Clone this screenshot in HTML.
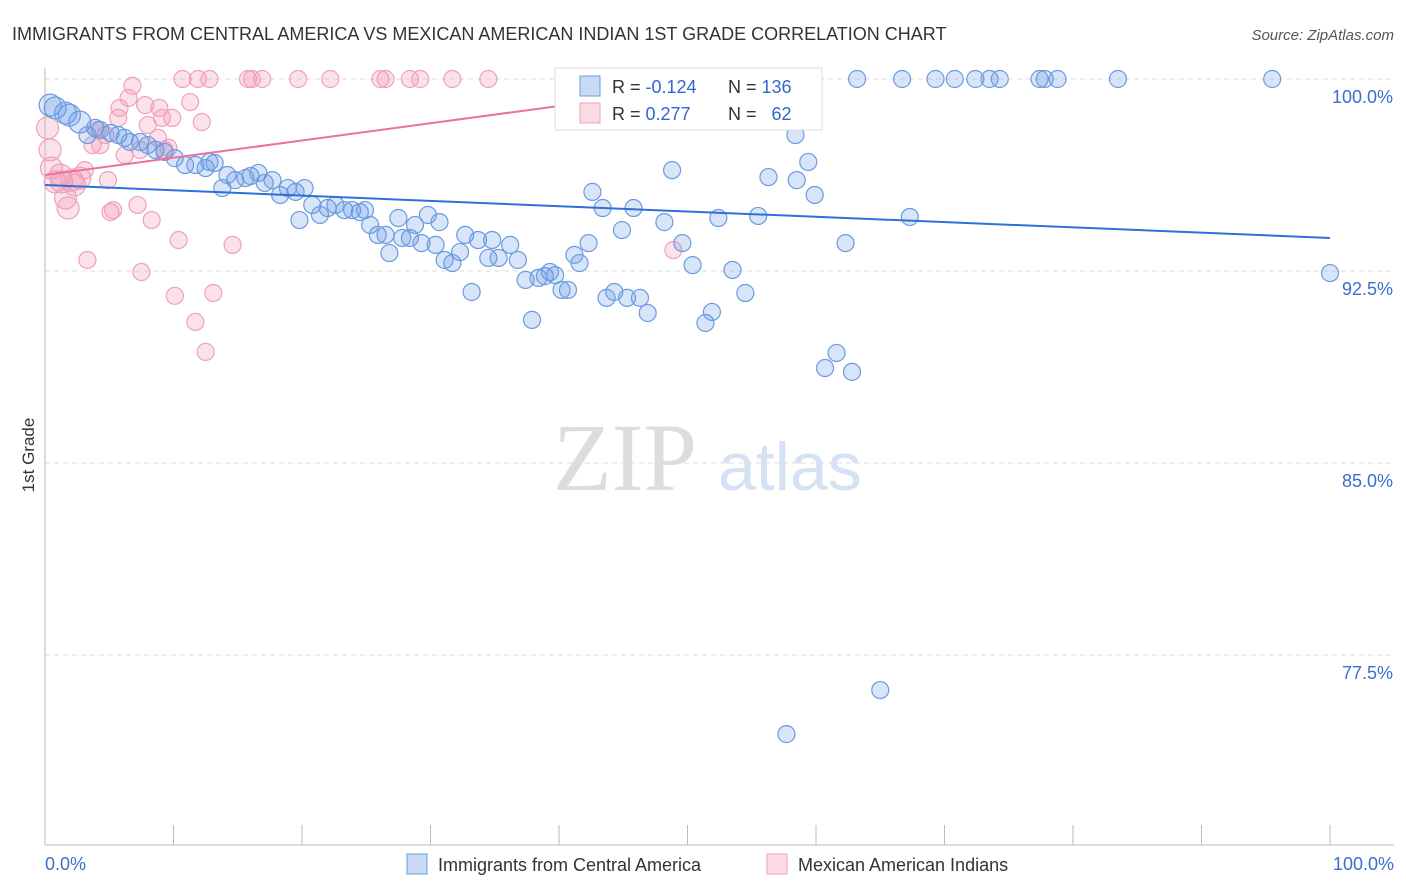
<!DOCTYPE html>
<html><head><meta charset="utf-8"><style>
body{margin:0;background:#fff;font-family:"Liberation Sans",sans-serif;}
svg{display:block}
</style></head><body>
<svg id="chart" width="1406" height="892">
<text x="12" y="40" font-size="18" fill="#333">IMMIGRANTS FROM CENTRAL AMERICA VS MEXICAN AMERICAN INDIAN 1ST GRADE CORRELATION CHART</text>
<text x="1394" y="40" font-size="15" fill="#555" font-style="italic" text-anchor="end">Source: ZipAtlas.com</text>
<text transform="translate(34,455) rotate(-90)" font-size="17" fill="#333" text-anchor="middle">1st Grade</text>
<g>
<text x="553" y="490" font-size="96" fill="#ddd" font-family="Liberation Serif,serif">ZIP</text>
<text x="718" y="490" font-size="68" fill="#d4e2f4">atlas</text>
</g>
<g id="grid"></g><g id="axes"></g><g id="pts"></g><g id="trends"></g>
<g>
<rect x="555" y="68" width="267" height="62" fill="#fff" stroke="#ddd"/>
<rect x="580" y="76" width="20" height="20" fill="rgba(100,150,230,0.35)" stroke="#6a9be0"/>
<rect x="580" y="103" width="20" height="20" fill="rgba(240,150,180,0.35)" stroke="#f0a0bb"/>
<text x="612" y="93" font-size="18" fill="#333">R = <tspan fill="#3366cc">-0.124</tspan></text>
<text x="728" y="93" font-size="18" fill="#333">N = <tspan fill="#3366cc">136</tspan></text>
<text x="612" y="120" font-size="18" fill="#333">R = <tspan fill="#3366cc">0.277</tspan></text>
<text x="728" y="120" font-size="18" fill="#333">N = <tspan fill="#3366cc" dx="10">62</tspan></text>
</g>
<g>
<rect x="407" y="854" width="20" height="20" fill="rgba(100,150,230,0.35)" stroke="#6a9be0"/>
<text x="438" y="871" font-size="18" fill="#333">Immigrants from Central America</text>
<rect x="767" y="854" width="20" height="20" fill="rgba(240,150,180,0.35)" stroke="#f0a0bb"/>
<text x="798" y="871" font-size="18" fill="#333">Mexican American Indians</text>
</g>
</svg>
<script>
const yTicks=[100,92.5,85,77.5];
const yTickLabels=["100.0%","92.5%","85.0%","77.5%"];
const xTickLabels=["0.0%","100.0%"];
const blueX=[0.4,0.8,1.6,1.9,2.7,3.3,3.9,4.3,5.1,5.7,6.2,6.6,7.4,8.0,8.6,9.3,10.1,10.9,11.7,12.5,12.8,13.2,13.8,14.2,14.8,15.6,16.0,16.6,17.1,17.7,18.3,18.9,19.5,19.8,20.2,20.8,21.4,22.0,22.6,23.3,23.9,24.5,24.9,25.3,25.9,26.5,26.8,27.5,27.8,28.4,28.8,29.3,29.8,30.4,30.7,31.1,31.7,32.3,32.7,33.2,33.7,34.5,34.8,35.3,36.2,36.8,37.4,37.9,38.4,38.9,39.3,39.7,40.2,40.7,41.2,41.6,42.3,42.6,43.4,43.7,44.3,44.9,45.3,45.8,46.3,46.9,48.2,48.8,49.6,50.4,50.7,51.4,51.9,52.4,53.5,54.5,55.5,56.3,57.7,58.4,58.5,59.4,59.9,60.7,61.6,62.3,62.8,65.0,67.3,100,47.5,47.9,51.0,54.5,55.6,58.0,63.2,66.7,69.3,70.8,72.4,73.5,74.3,77.4,77.8,78.8,83.5,95.5];
const blueY=[98.98,98.87,98.67,98.59,98.32,97.81,98.09,98.01,97.89,97.81,97.70,97.54,97.54,97.42,97.23,97.15,96.91,96.64,96.64,96.52,96.76,96.72,95.74,96.25,96.05,96.13,96.21,96.33,95.94,96.05,95.47,95.74,95.59,94.49,95.74,95.08,94.69,94.96,95.08,94.88,94.88,94.80,94.88,94.30,93.91,93.91,93.20,94.57,93.79,93.79,94.30,93.59,94.69,93.52,94.41,92.93,92.81,93.24,93.91,91.68,93.71,93.01,93.71,93.01,93.52,92.93,92.15,90.59,92.23,92.30,92.46,92.34,91.76,91.76,93.13,92.81,93.59,95.59,94.96,91.45,91.68,94.10,91.45,94.96,91.45,90.86,94.41,96.44,93.59,92.73,98.40,90.47,90.90,94.57,92.54,91.64,94.65,96.17,74.41,97.81,96.05,96.76,95.47,88.71,89.30,93.59,88.56,76.13,94.61,92.42,100,100,100,100,100,100,100,100,100,100,100,100,100,100,100,100,100,100];
const pinkX=[0.2,0.4,0.5,0.8,1.2,1.3,1.6,1.8,2.1,2.3,2.7,3.1,3.3,3.7,4.1,4.3,4.7,4.9,5.1,5.3,5.7,5.8,6.2,6.5,6.8,7.2,7.4,7.5,7.8,8.0,8.3,8.8,8.9,9.1,9.3,9.6,9.9,10.1,10.4,10.7,11.3,11.7,11.9,12.2,12.5,12.8,13.1,14.6,15.8,16.1,16.9,19.7,22.2,26.1,26.5,28.4,29.2,31.7,34.5,48.9];
const pinkY=[98.09,97.23,96.52,95.98,96.25,95.98,95.35,94.96,96.05,95.86,96.13,96.44,92.93,97.42,98.01,97.42,97.81,96.05,94.80,94.88,98.48,98.87,97.03,99.26,99.73,95.08,97.23,92.46,98.98,98.20,94.49,97.70,98.87,98.48,97.23,97.31,98.48,91.53,93.71,100,99.10,90.51,100,98.32,89.34,100,91.64,93.52,100,100,100,100,100,100,100,100,100,100,100,93.32];
const blueTrend=[95.86,93.79];
const pinkTrend=[96.25,102.99];

const X=v=>45+v*12.85, Y=v=>79+(100-v)*25.6;
const NS="http://www.w3.org/2000/svg";
function mk(t,a,p){const e=document.createElementNS(NS,t);for(const k in a)e.setAttribute(k,a[k]);p.appendChild(e);return e;}
const grid=document.getElementById('grid'),axes=document.getElementById('axes'),pts=document.getElementById('pts'),tr=document.getElementById('trends');
yTicks.forEach((t,i)=>{
 const l=mk('line',{x1:45,x2:1394,y1:Y(t),y2:Y(t),stroke:'#ddd','stroke-dasharray':'5,4'},grid);
 
 
 const tx=mk('text',{x:1393,y:Y(t)+24,'font-size':18,fill:'#3a6fd0','text-anchor':'end'},axes);
 tx.textContent=yTickLabels[i];
 
 
});
const ax=mk('line',{x1:45,x2:1394,y1:845,y2:845,stroke:'#bbb'},axes);


const ay=mk('line',{x1:45,x2:45,y1:68,y2:845,stroke:'#bbb'},axes);


for(let i=0;i<=10;i++){
 const t=mk('line',{x1:X(i*10),x2:X(i*10),y1:825,y2:845,stroke:'#bbb'},axes);
 
 
}
[[0,'start',45],[100,'end',1394]].forEach((d,i)=>{
 const t=mk('text',{x:d[2],y:870,'font-size':18,fill:'#3a6fd0','text-anchor':d[1]},axes);
 t.textContent=xTickLabels[i];
 
 
});
function dots(xs,ys,fill,stroke,name){
 xs.forEach((x,i)=>{
  const r=x<3?11:8.5;
  const c=mk('circle',{cx:X(x),cy:Y(ys[i]),r:r,fill:fill,stroke:stroke,'stroke-width':1.2},pts);
  
  
 });
}
dots(pinkX,pinkY,'rgba(240,150,180,0.28)','#f0a0bb','pink-point');
dots(blueX,blueY,'rgba(100,150,230,0.25)','#6a9be0','blue-point');
const b=mk('line',{x1:X(0),y1:Y(blueTrend[0]),x2:X(100),y2:Y(blueTrend[1]),stroke:'#2f6fd6','stroke-width':2},tr);


const xEnd=Math.min(100,(100-pinkTrend[0])/((pinkTrend[1]-pinkTrend[0])/100));
const p=mk('line',{x1:X(0),y1:Y(pinkTrend[0]),x2:X(xEnd),y2:Y(pinkTrend[0]+(pinkTrend[1]-pinkTrend[0])*xEnd/100),stroke:'#e8739c','stroke-width':2},tr);


</script>
</body></html>
